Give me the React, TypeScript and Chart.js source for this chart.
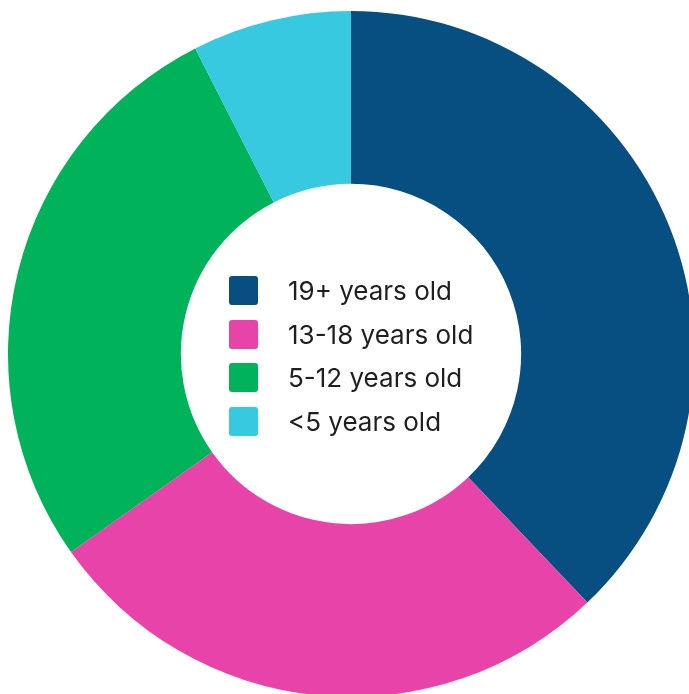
import React, { useEffect, useRef } from "react";
import { Chart, registerables } from "chart.js";

Chart.register(...registerables);

const categories: string[] = ["19+ years old", "13-18 years old", "5-12 years old", "<5 years old"];
const shares: number[] = [37.9, 27.3, 27.3, 7.5];
const colors: string[] = ["#074F80", "#E843A9", "#00B25A", "#37C9E0"];

export default function App() {
  const ref = useRef<HTMLCanvasElement | null>(null);

  useEffect(() => {
    if (!ref.current) return;
    const chart = new Chart(ref.current, {
      type: "doughnut",
      data: {
        labels: categories,
        datasets: [
          {
            data: shares,
            backgroundColor: colors,
            borderWidth: 0,
            hoverOffset: 0,
          },
        ],
      },
      options: {
        responsive: false,
        animation: false,
        cutout: "49.6%",
        layout: { padding: 0 },
        plugins: {
          legend: { display: false },
          tooltip: { enabled: false },
        },
      },
    });
    return () => chart.destroy();
  }, []);

  return (
    <div
      style={{
        position: "absolute",
        left: 0,
        top: 0,
        width: 689,
        height: 694,
        overflow: "hidden",
        background: "#ffffff",
      }}
    >
      <canvas
        ref={ref}
        width={686}
        height={686}
        style={{ position: "absolute", left: 8, top: 11, width: 686, height: 686 }}
      />
      {categories.map((c, i) => (
        <div
          key={c}
          style={{
            position: "absolute",
            left: 229,
            top: 276 + 43.5 * i,
            height: 29,
            display: "flex",
            alignItems: "center",
            whiteSpace: "nowrap",
          }}
        >
          <div
            style={{
              width: 29,
              height: 29,
              borderRadius: 3,
              background: colors[i],
            }}
          />
          <span
            style={{
              marginLeft: 30,
              fontFamily: "Inter, 'Noto Sans', sans-serif",
              fontSize: 26,
              color: "#1f1f1f",
              lineHeight: "29px",
            }}
          >
            {c}
          </span>
        </div>
      ))}
    </div>
  );
}
